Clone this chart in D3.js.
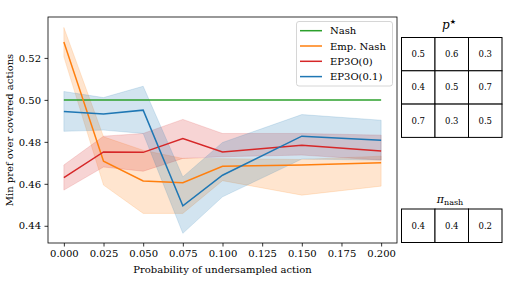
<!DOCTYPE html>
<html>
<head>
<meta charset="utf-8">
<script src="https://cdn.jsdelivr.net/npm/d3@7"></script>
<style>
  body { margin: 0; background: #fff; }
  svg text { font-family: 'DejaVu Serif', serif; }
</style>
</head>
<body>
<svg id="chart" width="505" height="284"></svg>
<script>
'use strict'

const probs = [0, 0.025, 0.05, 0.075, 0.1, 0.15, 0.2]
const seriesNames = ['Nash', 'Emp. Nash', 'EP3O(0)', 'EP3O(0.1)']
const seriesColors = ['#2ca02c', '#ff7f0e', '#d62728', '#1f77b4']

const nashMean = [0.5, 0.5, 0.5, 0.5, 0.5, 0.5, 0.5]
const empMean = [0.5276, 0.4708, 0.4614, 0.4605, 0.4684, 0.4690, 0.4700]
const empLow = [0.5205, 0.4594, 0.4459, 0.4459, 0.4615, 0.4546, 0.4589]
const empHigh = [0.5345, 0.4824, 0.4760, 0.4721, 0.4720, 0.4716, 0.4732]
const ep0Mean = [0.4630, 0.4752, 0.4750, 0.4816, 0.4752, 0.4784, 0.4756]
const ep0Low = [0.4570, 0.4680, 0.4660, 0.4721, 0.4729, 0.4737, 0.4713]
const ep0High = [0.4690, 0.4827, 0.4840, 0.4907, 0.4840, 0.4840, 0.4832]
const ep1Mean = [0.4945, 0.4933, 0.4951, 0.4495, 0.4641, 0.4827, 0.4808]
const ep1Low = [0.4850, 0.4856, 0.4840, 0.4364, 0.4538, 0.4718, 0.4713]
const ep1High = [0.5040, 0.5011, 0.5065, 0.4633, 0.4797, 0.4930, 0.4903]

const xTicks = [0, 0.025, 0.05, 0.075, 0.1, 0.125, 0.15, 0.175, 0.2]
const yTicks = [0.44, 0.46, 0.48, 0.50, 0.52]

const pStar = [[0.5, 0.6, 0.3], [0.4, 0.5, 0.7], [0.7, 0.3, 0.5]]
const piNash = [[0.4, 0.4, 0.2]]

const svg = d3.select('#chart')
const axLeft = 48, axRight = 397, axTop = 17, axBottom = 243

const x = d3.scaleLinear().domain([-0.01, 0.21]).range([axLeft, axRight])
const y = d3.scaleLinear().domain([0.4318, 0.5395]).range([axBottom, axTop])

const series = [
  { mean: nashMean },
  { mean: empMean, low: empLow, high: empHigh },
  { mean: ep0Mean, low: ep0Low, high: ep0High },
  { mean: ep1Mean, low: ep1Low, high: ep1High },
]

const plot = svg.append('g')

// Bands.
const area = d3.area()
  .x((d, i) => x(probs[i]))
  .y0(d => y(d[0]))
  .y1(d => y(d[1]))
series.forEach((s, k) => {
  if (!s.low) return
  plot.append('path')
    .attr('d', area(s.low.map((v, i) => [v, s.high[i]])))
    .attr('fill', seriesColors[k])
    .attr('fill-opacity', 0.2)
    .attr('stroke', seriesColors[k])
    .attr('stroke-opacity', 0.2)
    .attr('stroke-width', 0.8)
})

// Lines.
const line = d3.line().x((d, i) => x(probs[i])).y(d => y(d))
series.forEach((s, k) => {
  plot.append('path')
    .attr('d', line(s.mean))
    .attr('fill', 'none')
    .attr('stroke', seriesColors[k])
    .attr('stroke-width', 1.5)
})

// Axes.
const xAxis = svg.append('g')
  .attr('transform', `translate(0, ${axBottom})`)
  .call(d3.axisBottom(x).tickValues(xTicks).tickFormat(d3.format('.3f')).tickSize(3.5).tickPadding(3.5))
const yAxis = svg.append('g')
  .attr('transform', `translate(${axLeft}, 0)`)
  .call(d3.axisLeft(y).tickValues(yTicks).tickFormat(d3.format('.2f')).tickSize(3.5).tickPadding(3.5))
;[xAxis, yAxis].forEach(a => {
  a.select('.domain').remove()
  a.selectAll('text').attr('font-family', 'DejaVu Serif').attr('font-size', 10).attr('fill', '#000')
  a.selectAll('line').attr('stroke', '#000').attr('stroke-width', 0.8)
})

svg.append('rect')
  .attr('x', axLeft).attr('y', axTop)
  .attr('width', axRight - axLeft).attr('height', axBottom - axTop)
  .attr('fill', 'none').attr('stroke', '#000').attr('stroke-width', 0.8)

svg.append('text')
  .attr('x', (axLeft + axRight) / 2).attr('y', 273)
  .attr('text-anchor', 'middle').attr('font-size', 10)
  .text('Probability of undersampled action')
svg.append('text')
  .attr('transform', `translate(13, ${(axTop + axBottom) / 2}) rotate(-90)`)
  .attr('text-anchor', 'middle').attr('font-size', 10)
  .text('Min pref over covered actions')

// Legend.
svg.append('rect')
  .attr('x', 296.5).attr('y', 21.5).attr('width', 96).attr('height', 64.5)
  .attr('rx', 2.5).attr('fill', '#fff').attr('fill-opacity', 0.8)
  .attr('stroke', '#ccc').attr('stroke-width', 0.8)
seriesNames.forEach((name, k) => {
  const ly = 30.7 + k * 15.3
  svg.append('line')
    .attr('x1', 300).attr('x2', 322).attr('y1', ly).attr('y2', ly)
    .attr('stroke', seriesColors[k]).attr('stroke-width', 1.5)
  svg.append('text')
    .attr('x', 330).attr('y', ly).attr('dy', '0.35em')
    .attr('font-size', 10).text(name)
})

// Tables.
function drawTable(data, tx, ty, cw, ch) {
  const g = svg.append('g')
  data.forEach((row, r) => {
    row.forEach((v, c) => {
      g.append('rect')
        .attr('x', tx + c * cw).attr('y', ty + r * ch)
        .attr('width', cw).attr('height', ch)
        .attr('fill', '#fff').attr('stroke', '#000').attr('stroke-width', 1)
      g.append('text')
        .attr('x', tx + c * cw + cw / 2).attr('y', ty + r * ch + ch / 2)
        .attr('dy', '0.35em').attr('text-anchor', 'middle')
        .attr('font-family', 'Liberation Sans, Arial, sans-serif')
        .attr('font-size', 8.5)
        .text(v.toFixed(1))
    })
  })
}
drawTable(pStar, 401.5, 37.5, 33.5, 33.3)
drawTable(piNash, 401.5, 209, 33.5, 33.5)

const pt = svg.append('text')
  .attr('x', 449).attr('y', 29).attr('text-anchor', 'middle')
  .attr('font-size', 12).attr('font-style', 'italic')
pt.append('tspan').text('p')
pt.append('tspan').attr('font-size', 7).attr('dy', -5).attr('font-style', 'normal')
  .attr('font-family', 'DejaVu Sans').text('★')

const nt = svg.append('text')
  .attr('x', 450).attr('y', 203).attr('text-anchor', 'middle')
  .attr('font-size', 11)
nt.append('tspan').attr('font-style', 'italic').text('π')
nt.append('tspan').attr('font-size', 8).attr('dy', 2).text('nash')
</script>
</body>
</html>
